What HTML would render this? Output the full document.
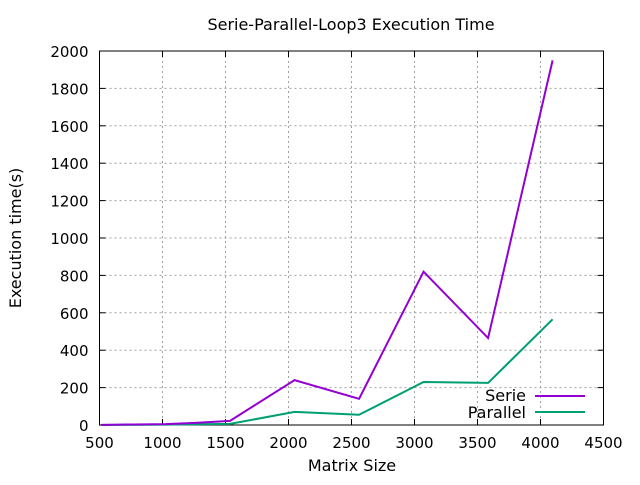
<!DOCTYPE html>
<html><head><meta charset="utf-8"><style>
body{margin:0;background:#fff}
svg text{font-family:"DejaVu Sans","Liberation Sans",sans-serif;font-size:15px;fill:#000}
svg text.big{font-size:16px}
</style></head><body>
<svg width="640" height="480" xmlns="http://www.w3.org/2000/svg">
<text class="big" x="351" y="30" text-anchor="middle">Serie-Parallel-Loop3 Execution Time</text>
<g id="grid"></g><g id="axes"></g><g id="series"></g>
<text class="big" x="352" y="471" text-anchor="middle">Matrix Size</text>
<text class="big" transform="translate(21,238) rotate(-90)" text-anchor="middle">Execution time(s)</text>
<g>
<text class="big" x="526" y="401" text-anchor="end">Serie</text>
<line x1="535" y1="396" x2="585" y2="396" stroke="#9400d3" stroke-width="2"/>
<text class="big" x="526" y="418" text-anchor="end">Parallel</text>
<line x1="535" y1="412" x2="585" y2="412" stroke="#009e73" stroke-width="2"/>
</g>
</svg>
<script>
const xs=[512,768,1024,1280,1536,2048,2560,3072,3584,4096];
const serie=[1,3,5,12,22,240,140,820,465,1950];
const parallel=[0,1,2,4,6,70,55,230,225,565];
const xTicks=[500,1000,1500,2000,2500,3000,3500,4000,4500];
const yTicks=[0,200,400,600,800,1000,1200,1400,1600,1800,2000];
const L=99.5,R=603.5,T=51,B=425;
const sx=v=>L+(v-500)/4000*(R-L);
const sy=v=>B-v/2000*(B-T);
const NS="http://www.w3.org/2000/svg";
function mk(tag,attrs,parent){const e=document.createElementNS(NS,tag);for(const k in attrs)e.setAttribute(k,attrs[k]);document.getElementById(parent).appendChild(e);return e;}
xTicks.forEach(t=>{const x=sx(t);
 if(t>500&&t<4500){const g=mk('line',{x1:x,y1:T,x2:x,y2:B,stroke:'#a0a0a0','stroke-dasharray':'2,3'},'grid');
 
 }
 const tk=mk('line',{x1:x,y1:B,x2:x,y2:B-6,stroke:'#000'},'axes');
 
 
 const tk2=mk('line',{x1:x,y1:T,x2:x,y2:T+6,stroke:'#000'},'axes');
 
 
 const tx=mk('text',{x:x,y:B+23,'text-anchor':'middle'},'axes');tx.textContent=t;
 
 
});
yTicks.forEach(t=>{const y=sy(t);
 if(t>0&&t<2000){const g=mk('line',{x1:L,y1:y,x2:R,y2:y,stroke:'#a0a0a0','stroke-dasharray':'2,3'},'grid');
 
 }
 const tk=mk('line',{x1:L,y1:y,x2:L+6,y2:y,stroke:'#000'},'axes');
 
 
 const tk2=mk('line',{x1:R,y1:y,x2:R-6,y2:y,stroke:'#000'},'axes');
 
 
 const tx=mk('text',{x:L-11,y:y+6,'text-anchor':'end'},'axes');tx.textContent=t;
 
 
});
const fr=mk('rect',{x:L,y:T,width:R-L,height:B-T,fill:'none',stroke:'#000'},'axes');


function line(vals,color,name){const p=mk('polyline',{points:xs.map((x,i)=>sx(x)+','+sy(vals[i])).join(' '),fill:'none',stroke:color,'stroke-width':2},'series');
 
 }
line(parallel,'#009e73','parallel-line');
line(serie,'#9400d3','serie-line');
</script>
</body></html>
